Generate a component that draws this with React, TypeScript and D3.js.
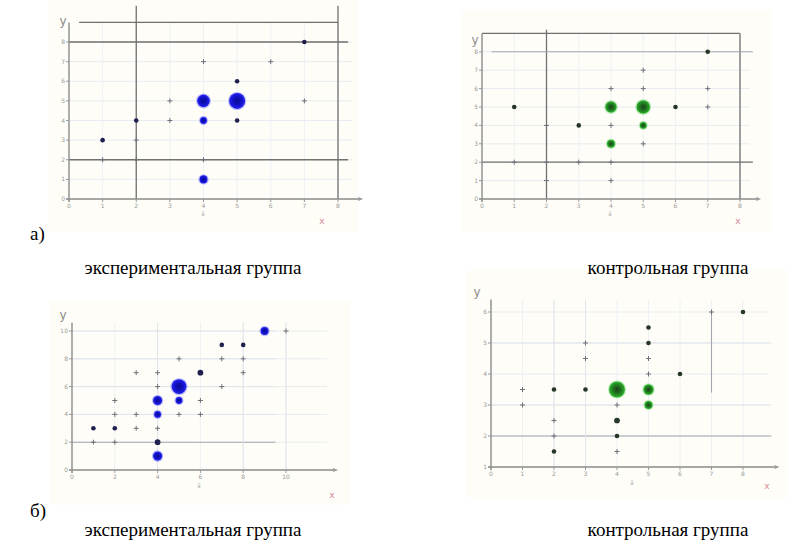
import React from 'react';
import * as d3 from 'd3';

// correlation fields: [x, y, frequency]
const expA: [number, number, number][] = [
  [7, 8, 2], [4, 7, 1], [6, 7, 1], [5, 6, 2],
  [3, 5, 1], [4, 5, 9], [5, 5, 12], [7, 5, 1],
  [2, 4, 2], [3, 4, 1], [4, 4, 4], [5, 4, 2],
  [1, 3, 2], [2, 3, 1], [1, 2, 1], [2, 2, 1], [4, 2, 1],
  [4, 1, 5],
];

const ctrlA: [number, number, number][] = [
  [7, 8, 2], [5, 7, 1], [4, 6, 1], [5, 6, 1], [7, 6, 1],
  [1, 5, 2], [4, 5, 8], [5, 5, 10], [6, 5, 2], [7, 5, 1],
  [2, 4, 1], [3, 4, 2], [4, 4, 1], [5, 4, 4],
  [4, 3, 5], [5, 3, 1],
  [1, 2, 1], [2, 2, 1], [3, 2, 1], [4, 2, 1],
  [2, 1, 1], [4, 1, 1],
];

const expB: [number, number, number][] = [
  [9, 10, 5], [10, 10, 1], [7, 9, 2], [8, 9, 2],
  [5, 8, 1], [7, 8, 1], [8, 8, 1],
  [3, 7, 1], [4, 7, 1], [6, 7, 3], [8, 7, 1],
  [4, 6, 1], [5, 6, 11], [7, 6, 1],
  [2, 5, 1], [4, 5, 6], [5, 5, 4], [6, 5, 1],
  [2, 4, 1], [3, 4, 1], [4, 4, 4], [5, 4, 1], [6, 4, 1],
  [1, 3, 2], [2, 3, 2], [3, 3, 1], [4, 3, 1],
  [1, 2, 1], [2, 2, 1], [4, 2, 3],
  [4, 1, 6],
];

const ctrlB: [number, number, number][] = [
  [8, 6, 2], [7, 6, 1], [5, 5.5, 2], [5, 5, 2], [3, 5, 1],
  [5, 4.5, 1], [3, 4.5, 1], [5, 4, 1], [6, 4, 2],
  [1, 3.5, 1], [2, 3.5, 2], [3, 3.5, 2], [4, 3.5, 12], [5, 3.5, 7],
  [1, 3, 1], [4, 3, 1], [5, 3, 5],
  [2, 2.5, 1], [4, 2.5, 3], [4, 2, 2], [2, 2, 1],
  [2, 1.5, 2], [4, 1.5, 1],
];

const ticks0to8 = [0, 1, 2, 3, 4, 5, 6, 7, 8];
const ticksEven = [0, 2, 4, 6, 8, 10];
const ticksCtrlBY = [1, 2, 3, 4, 5, 6];

const captions = ['экспериментальная группа', 'контрольная группа'];
const rowLabels = ['а)', 'б)'];

const rScale = d3.scaleLinear().domain([2, 12]).range([2.3, 8]);

type Line = [number, number, number, number, string];

const panels = [
  {
    id: 'ea', points: expA, hue: 'blue',
    xDomain: [0, 8], xRange: [69, 338], yDomain: [0, 9], yRange: [199, 22.4],
    xTicks: ticks0to8, yTicks: ticks0to8, xEnd: 8.6, yTop: 9,
    // x1, y1, x2, y2 in data units
    lines: [
      [0.3, 9, 8, 9, 'dark'], [8, 9.85, 8, 0, 'dark'], [2, 9.85, 2, 0, 'dark'],
      [0, 8, 8.3, 8, 'dark'], [0, 2, 8.3, 2, 'dark'],
    ] as Line[],
    bg: [48, 0, 310, 232], yLab: [63, 25], xLab: [322, 224], meanLab: [203, 216],
  },
  {
    id: 'ca', points: ctrlA, hue: 'green',
    xDomain: [0, 8], xRange: [482, 740], yDomain: [0, 9], yRange: [199, 33.4],
    xTicks: ticks0to8, yTicks: ticks0to8, xEnd: 8.5, yTop: 9,
    lines: [
      [0, 9, 8, 9, 'dark'], [8, 9, 8, 0, 'dark'], [2, 9.2, 2, 0, 'dark'],
      [0.3, 8, 8.4, 8, 'mid'], [0, 2, 8.4, 2, 'dark'],
    ] as Line[],
    bg: [462, 10, 310, 222], yLab: [475, 44], xLab: [738, 224], meanLab: [610, 216],
  },
  {
    id: 'eb', points: expB, hue: 'blue',
    xDomain: [0, 10], xRange: [72, 286], yDomain: [0, 10], yRange: [470, 331],
    xTicks: ticksEven, yTicks: ticksEven, xEnd: 12.2, yTop: 10.6,
    lines: [
      [0, 2, 9.5, 2, 'mid'], [0, 4, 9.5, 4, 'faint'], [0, 6, 9.5, 6, 'faint'],
      [0, 8, 9.5, 8, 'faint'], [0, 10, 9.5, 10, 'faint'],
      [4, 10.6, 4, 0, 'faint'], [8, 10.6, 8, 0, 'faint'], [10, 10.6, 10, 0, 'faint'],
    ] as Line[],
    bg: [50, 300, 300, 205], yLab: [63, 319], xLab: [332, 498], meanLab: [199, 488],
  },
  {
    id: 'cb', points: ctrlB, hue: 'green',
    xDomain: [0, 8], xRange: [491, 743], yDomain: [1, 6], yRange: [467, 312],
    xTicks: ticks0to8, yTicks: ticksCtrlBY, xEnd: 9, yTop: 6.4,
    lines: [
      [0, 2, 8.9, 2, 'mid'], [0, 3, 8.9, 3, 'faint'], [0, 5, 8.9, 5, 'faint'],
      [2, 6.4, 2, 1, 'faint'], [3, 6.4, 3, 1, 'faint'], [7, 6, 7, 3.4, 'mid'],
    ] as Line[],
    bg: [466, 270, 322, 228], yLab: [477, 296], xLab: [767, 489], meanLab: [632, 485],
  },
];

const lineStyle: Record<string, { stroke: string; w: number }> = {
  dark: { stroke: '#707070', w: 1.3 },
  mid: { stroke: '#a3a6ad', w: 1.1 },
  faint: { stroke: '#e1e5ec', w: 1 },
};

function Panel({ cfg }: { cfg: any }) {
  const x = d3.scaleLinear().domain(cfg.xDomain).range(cfg.xRange);
  const y = d3.scaleLinear().domain(cfg.yDomain).range(cfg.yRange);
  const x0 = x(cfg.xDomain[0]);
  const y0 = y(cfg.yDomain[0]);
  const xEnd = x(cfg.xEnd);
  const yTop = y(cfg.yTop);
  const dark = cfg.hue === 'blue' ? '#20204e' : '#263626';
  const [bx, by, bw, bh] = cfg.bg;

  return (
    <g>
      <rect x={bx} y={by} width={bw} height={bh} fill="#fefdf8" />
      {/* faint grid under everything */}
      {cfg.yTicks.slice(1).map((t: number) => (
        <line key={'gy' + t} x1={x0} x2={xEnd - 6} y1={y(t)} y2={y(t)} stroke="#e8ebf1" />
      ))}
      {cfg.xTicks.slice(1).map((t: number) => (
        <line key={'gx' + t} x1={x(t)} x2={x(t)} y1={y0} y2={yTop} stroke="#eef0f4" />
      ))}
      {cfg.lines.map((l: Line, i: number) => (
        <line key={'l' + i} x1={x(l[0])} y1={y(l[1])} x2={x(l[2])} y2={y(l[3])}
          stroke={lineStyle[l[4]].stroke} strokeWidth={lineStyle[l[4]].w} />
      ))}
      {/* axes */}
      <line x1={x0} x2={x0} y1={y0 + 3} y2={yTop} stroke="#8a8a8a" strokeWidth={1.4} />
      <line x1={x0 - 3} x2={xEnd} y1={y0} y2={y0} stroke="#8a8a8a" strokeWidth={1.4} />
      <path d={`M${xEnd},${y0 - 2}L${xEnd + 5},${y0}L${xEnd},${y0 + 2}Z`} fill="#9a9a9a" />
      {cfg.xTicks.map((t: number) => (
        <g key={'xt' + t}>
          <line x1={x(t)} x2={x(t)} y1={y0} y2={y0 + 3} stroke="#999" />
          <text x={x(t)} y={y0 + 9} fontSize={6} fill="#9a9a9a" textAnchor="middle"
            fontFamily="DejaVu Sans">{t}</text>
        </g>
      ))}
      {cfg.yTicks.map((t: number) => (
        <g key={'yt' + t}>
          <line x1={x0 - 3} x2={x0} y1={y(t)} y2={y(t)} stroke="#999" />
          <text x={x0 - 4} y={y(t) + 2} fontSize={6} fill="#9a9a9a" textAnchor="end"
            fontFamily="DejaVu Sans">{t}</text>
        </g>
      ))}
      <text x={cfg.yLab[0]} y={cfg.yLab[1]} fontSize={12} fill="#8c8c8c"
        fontFamily="DejaVu Sans" textAnchor="middle">y</text>
      <text x={cfg.xLab[0]} y={cfg.xLab[1]} fontSize={9} fill="#d88a96"
        fontFamily="DejaVu Sans" textAnchor="middle">x</text>
      <text x={cfg.meanLab[0]} y={cfg.meanLab[1]} fontSize={6} fill="#a0a0a0"
        fontFamily="DejaVu Sans" textAnchor="middle">x̄</text>
      {/* points: single observations as small crosses, others as circles */}
      {cfg.points.map((p: [number, number, number], i: number) => {
        const cx = x(p[0]);
        const cy = y(p[1]);
        if (p[2] === 1) {
          return (
            <path key={'p' + i} d={`M${cx - 2.5},${cy}h5M${cx},${cy - 2.5}v5`}
              stroke="#6f7078" strokeWidth={1} />
          );
        }
        const r = rScale(p[2]);
        const big = p[2] >= 4;
        return (
          <g key={'p' + i}>
            {big && <circle cx={cx} cy={cy} r={r + 1.2} fill={cfg.hue === 'blue' ? '#5a5aff' : '#5fd35f'} opacity={0.35} />}
            <circle cx={cx} cy={cy} r={r} fill={big ? `url(#grad-${cfg.hue})` : dark} />
          </g>
        );
      })}
    </g>
  );
}

export default function App() {
  return (
    <div style={{ position: 'absolute', left: 0, top: 0 }}>
      <svg width={792} height={546} style={{ display: 'block', background: '#fff' }}>
        <defs>
          <radialGradient id="grad-blue">
            <stop offset="0%" stopColor="#0b0b8c" />
            <stop offset="60%" stopColor="#1212cc" />
            <stop offset="100%" stopColor="#2424f0" />
          </radialGradient>
          <radialGradient id="grad-green">
            <stop offset="0%" stopColor="#1d3f1d" />
            <stop offset="55%" stopColor="#1f7a1f" />
            <stop offset="100%" stopColor="#2cb42c" />
          </radialGradient>
        </defs>
        {panels.map(p => <Panel key={p.id} cfg={p} />)}
        {rowLabels.map((t, i) => (
          <text key={t} x={30} y={i === 0 ? 240 : 517} fontSize={19}
            fontFamily="Liberation Serif">{t}</text>
        ))}
        {[274, 536].map(by =>
          captions.map((c, i) => (
            <text key={c + by} x={i === 0 ? 193 : 668} y={by} fontSize={19}
              textAnchor="middle" fontFamily="Liberation Serif">{c}</text>
          ))
        )}
      </svg>
    </div>
  );
}
